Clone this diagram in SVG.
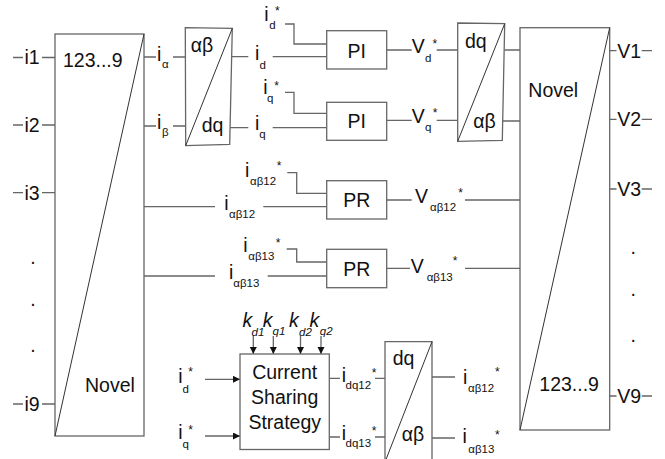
<svg xmlns="http://www.w3.org/2000/svg" width="665" height="459" viewBox="0 0 665 459">
<style>
.ln{stroke:#666;stroke-width:1.3;fill:none}
.bx{stroke:#666;stroke-width:1.3;fill:#fff}
.dg{stroke:#333;stroke-width:1;fill:none}
text{font-family:"Liberation Sans",Arial,sans-serif;fill:#111;font-size:19.5px}
.s{font-size:11.5px}
.st{font-size:12px}
.k{font-style:italic;font-size:19.5px}
.ks{font-style:italic;font-size:11.5px}
.c{text-anchor:middle}
</style>
<defs>
<marker id="ah" markerUnits="userSpaceOnUse" markerWidth="8" markerHeight="8" refX="7" refY="3.5" orient="auto">
<path d="M0,0 L7,3.5 L0,7 z" fill="#111"/>
</marker>
</defs>
<rect width="665" height="459" fill="#fff"/>

<g id="connectors">
<path class="ln" d="M13,57.5H23M42,57.5H55M13,125H23M42,125H55M13,192.7H23M42,192.7H55M13,404H23M42,404H55"/>
<path class="ln" d="M144,57H156M173,57H185.5M144,126H156M173,126H185.5"/>
<path class="ln" d="M144,206.7H215M263.3,206.7H326.7M144,276H215M267.7,276H326.7"/>
<path class="ln" d="M232,56.7H248.3M272.7,56.7H326.7M230,127.7H248.3M272.7,127.7H326.7"/>
<path class="ln" d="M285,24H294V44H326.7M285,92.3H294V113.3H326.7"/>
<path class="ln" d="M386.7,50H411.7M436.7,50H458M386.7,120.3H411.7M436.7,120.3H458"/>
<path class="ln" d="M504.5,50H520M502.5,121H520"/>
<path class="ln" d="M287.3,172.7H296.7V193.3H326.7M286.7,249H296.7V262H326.7"/>
<path class="ln" d="M386.7,200H411.7M465,200H520M386.7,268.3H410M465,268.3H520"/>
<path class="ln" d="M609.7,50.7H616.5M641.7,50.7H652M609.7,119.3H616.5M641.7,119.3H652M609.7,189H616.5M641.7,189H652M609.7,396H616.5M641.7,396H652"/>
<path class="ln" marker-end="url(#ah)" d="M205,379.3H240"/>
<path class="ln" marker-end="url(#ah)" d="M205,436H240"/>
<path class="ln" marker-end="url(#ah)" d="M253.3,336V354"/>
<path class="ln" marker-end="url(#ah)" d="M273.3,336V354"/>
<path class="ln" marker-end="url(#ah)" d="M300.5,336V354"/>
<path class="ln" marker-end="url(#ah)" d="M321,336V354"/>
<path class="ln" d="M329.3,378.3H340M375,378.3H385M329.3,437H340M375,437H385"/>
<path class="ln" d="M432,377H455M432,438H455"/>
</g>

<g id="novel-left">
<rect class="bx" x="55" y="34" width="89" height="402"/>
<line class="dg" x1="144" y1="34" x2="55" y2="436"/>
<text x="63" y="67">123...9</text>
<text x="85" y="391.7">Novel</text>
</g>

<g id="inputs-left">
<text x="24.5" y="64.3">i1</text>
<text x="24.5" y="131.8">i2</text>
<text x="24.5" y="199.5">i3</text>
<text x="24.5" y="410.8">i9</text>
<text x="33" y="263.8" class="c">.</text>
<text x="33" y="306" class="c">.</text>
<text x="33" y="351.8" class="c">.</text>
</g>

<g id="ab-dq-left">
<polygon class="bx" points="185.3,27.7 232.3,28.3 229.7,144.3 185.7,145.7"/>
<line class="dg" x1="185.7" y1="145.7" x2="232.3" y2="28.3"/>
<text x="190.7" y="52">αβ</text>
<text x="201.7" y="131.5">dq</text>
</g>

<g id="labels-ialpha">
<text x="157" y="60.5">i</text><text class="s" x="162" y="68">α</text>
<text x="157" y="128.5">i</text><text class="s" x="162" y="135.5">β</text>
</g>

<g id="pi-d">
<rect class="bx" x="326.7" y="30.7" width="60" height="38.3"/>
<text class="c" x="356.7" y="57.8">PI</text>
<text x="264.3" y="21">i</text><text class="s" x="269.3" y="29.3">d</text><text class="st" x="275" y="15.3">*</text>
<text x="255" y="59.5">i</text><text class="s" x="259.5" y="68.5">d</text>
<text x="411.7" y="53.3">V</text><text class="s" x="425" y="61.7">d</text><text class="st" x="432.5" y="48">*</text>
</g>

<g id="pi-q">
<rect class="bx" x="326.7" y="102.3" width="60" height="38"/>
<text class="c" x="356.7" y="128.3">PI</text>
<text x="263.3" y="93.5">i</text><text class="s" x="267" y="102">q</text><text class="st" x="274.3" y="89.6">*</text>
<text x="255" y="129.5">i</text><text class="s" x="259.3" y="138">q</text>
<text x="411.7" y="123.3">V</text><text class="s" x="425" y="130.5">q</text><text class="st" x="432.7" y="117">*</text>
</g>

<g id="dq-ab-right">
<polygon class="bx" points="457.7,23 504.7,23.7 502.3,140.3 457.7,141.3"/>
<line class="dg" x1="457.7" y1="141.3" x2="504.7" y2="23.7"/>
<text x="465" y="47.5">dq</text>
<text x="473.3" y="128">αβ</text>
</g>

<g id="pr-12">
<rect class="bx" x="326.7" y="180.7" width="60" height="38.3"/>
<text class="c" x="356.7" y="206.8">PR</text>
<text x="245" y="177.3">i</text><text class="s" x="250" y="185">αβ12</text><text class="st" x="276.7" y="169.6">*</text>
<text x="224.3" y="210">i</text><text class="s" x="229" y="218.3">αβ12</text>
<text x="415" y="203.3">V</text><text class="s" x="430" y="210.7">αβ12</text><text class="st" x="458.3" y="197">*</text>
</g>

<g id="pr-13">
<rect class="bx" x="326.7" y="249.3" width="60" height="38.4"/>
<text class="c" x="356.7" y="275.5">PR</text>
<text x="243.3" y="251.7">i</text><text class="s" x="248.3" y="260">αβ13</text><text class="st" x="275.7" y="247">*</text>
<text x="229" y="279.3">i</text><text class="s" x="233.3" y="287.3">αβ13</text>
<text x="410.7" y="272.7">V</text><text class="s" x="426.7" y="280.7">αβ13</text><text class="st" x="452.7" y="265.3">*</text>
</g>

<g id="novel-right">
<rect class="bx" x="520" y="27.7" width="89.7" height="402.3"/>
<line class="dg" x1="609.7" y1="27.7" x2="520" y2="430"/>
<text x="528.3" y="96.5">Novel</text>
<text x="539.3" y="390.7">123...9</text>
</g>

<g id="outputs-right">
<text x="617.3" y="57.5">V1</text>
<text x="617.3" y="126.1">V2</text>
<text x="617.3" y="195.8">V3</text>
<text x="617.3" y="402.8">V9</text>
<text x="633.3" y="253.9" class="c">.</text>
<text x="633.3" y="295.9" class="c">.</text>
<text x="633.3" y="342.2" class="c">.</text>
</g>

<g id="current-sharing">
<rect class="bx" x="240" y="354" width="89.3" height="95.5"/>
<text class="c" x="284.7" y="378.8">Current</text>
<text class="c" x="284.7" y="403.5">Sharing</text>
<text class="c" x="284.7" y="429">Strategy</text>
<text class="k" x="242.5" y="327">k</text><text class="ks" x="251.5" y="336">d1</text>
<text class="k" x="262.8" y="327">k</text><text class="ks" x="272.5" y="335">q1</text>
<text class="k" x="289" y="327">k</text><text class="ks" x="299" y="336">d2</text>
<text class="k" x="309.5" y="327">k</text><text class="ks" x="319.8" y="335">q2</text>
<text x="178.3" y="382.7">i</text><text class="s" x="182.5" y="393.3">d</text><text class="st" x="188.3" y="376.3">*</text>
<text x="178.3" y="439.3">i</text><text class="s" x="182.5" y="448">q</text><text class="st" x="188.3" y="433.6">*</text>
<text x="341.7" y="381.7">i</text><text class="s" x="345.5" y="389">dq12</text><text class="st" x="371.7" y="377">*</text>
<text x="341.7" y="440">i</text><text class="s" x="345.5" y="447">dq13</text><text class="st" x="371.7" y="434.6">*</text>
</g>

<g id="dq-ab-bottom">
<polygon class="bx" points="385,341.7 432,341.7 432,466 385,466"/>
<line class="dg" x1="432" y1="341.7" x2="385" y2="462"/>
<text x="392.7" y="365">dq</text>
<text x="401.7" y="441">αβ</text>
<text x="463" y="383.5">i</text><text class="s" x="468" y="392">αβ12</text><text class="st" x="495" y="375.6">*</text>
<text x="462.5" y="443">i</text><text class="s" x="468.3" y="453">αβ13</text><text class="st" x="495" y="438.6">*</text>
</g>
</svg>
